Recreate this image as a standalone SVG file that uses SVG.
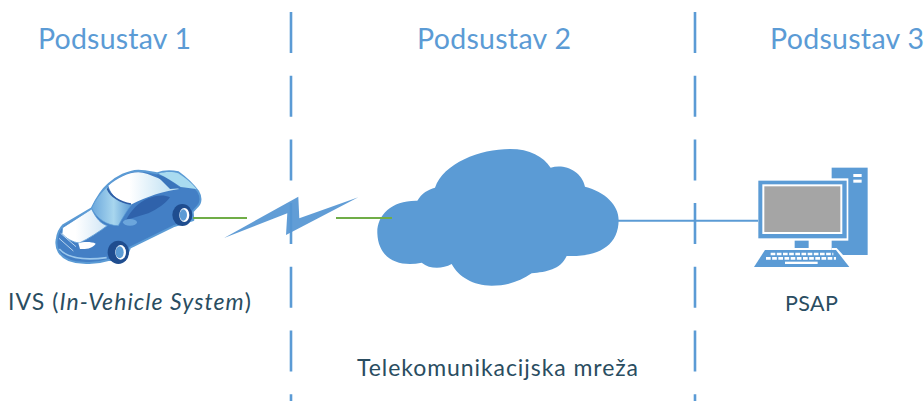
<svg xmlns="http://www.w3.org/2000/svg" width="924" height="401" viewBox="0 0 924 401">
<style>
.t{font-family:"Lato","Liberation Sans",sans-serif;}
.h{font-size:28.500px;fill:#5b9bd5;}
.b{font-size:23px;fill:#2a4d61;}
.dash{stroke:#5b9bd5;stroke-width:2.600;fill:none;stroke-dasharray:41 22.700;}
.blue{fill:#5b9bd5;}
.w{fill:#fff;}
</style>
<defs>
<linearGradient id="hood" x1="0" y1="0" x2="1" y2="0"><stop offset="0.3" stop-color="#fff"/><stop offset="1" stop-color="#cfe5f5"/></linearGradient>
<linearGradient id="roof" x1="0" y1="0" x2="1" y2="0"><stop offset="0.3" stop-color="#fff"/><stop offset="1" stop-color="#b6dcf1"/></linearGradient>
<linearGradient id="glass" x1="0" y1="0" x2="1" y2="0"><stop offset="0" stop-color="#6aa7dc"/><stop offset="0.55" stop-color="#a8d6ee"/><stop offset="1" stop-color="#5b9bd5"/></linearGradient>
</defs>
<g id="cloud">
<path class="blue" transform="translate(360,140) scale(0.3333)" d="M52,280C50,225 95,180 172,182C185,160 205,148 225,143C250,70 360,27 450,27C510,27 550,50 572,83C610,70 665,90 675,140C735,155 776,195 776,240C776,320 710,352 620,348C600,390 560,395 515,400C480,425 440,437 395,437C340,437 295,410 275,372C245,388 210,388 185,368C120,382 55,360 52,280Z"/>
</g>
<g id="car" transform="translate(50,165) scale(0.3333)">
<path fill="#437fc5" stroke="#5b9bd5" stroke-width="6" stroke-linejoin="round" d="M20,225C22,205 30,190 40,180L125,130C140,100 155,75 175,58C200,35 235,18 265,17C285,17 305,22 320,25C340,18 365,17 385,22C410,40 430,60 445,80C454,95 454,115 442,125L428,140L430,165L370,184L240,248L225,285L175,285C150,293 125,295 100,293C70,293 40,283 26,260C20,248 18,235 20,225Z"/>
<path fill="url(#hood)" stroke="#5b9bd5" stroke-width="2.500" d="M38,188L125,132C138,160 152,176 172,182C150,198 115,222 88,234C68,232 48,220 36,206Z"/>
<path fill="url(#glass)" stroke="#5b9bd5" stroke-width="2" d="M125,130C135,105 155,80 172,65C180,95 210,112 245,118C230,138 218,158 205,182C170,182 140,160 125,130Z"/>
<path fill="url(#roof)" d="M175,62C200,40 235,22 265,22C300,24 345,50 388,72C340,78 290,95 245,118C210,112 182,92 175,62Z"/>
<path fill="none" stroke="#2f5ea6" stroke-width="5" d="M172,70C182,95 210,112 243,117"/>
<path fill="#3a74bb" d="M318,30L345,35L392,70L360,72Z"/>
<path fill="#a9dbf0" d="M325,26C345,20 370,20 385,25C408,40 425,55 440,72C420,70 410,68 392,66C370,50 348,36 325,26Z"/>
<path fill="#2f62ab" d="M228,165C245,135 265,112 295,100C318,90 342,88 360,97C345,118 325,130 295,145Z"/>
<ellipse cx="240" cy="172" rx="21" ry="10" fill="#6ca6dc"/>
<path fill="#fff" d="M85,235C100,230 125,230 137,236C130,248 110,254 90,252Z"/>
<path fill="none" stroke="#cfe5f5" stroke-width="2.500" d="M32,205L78,245M27,220L70,258"/>
<path fill="none" stroke="#9cc8ec" stroke-width="5" d="M28,252C50,277 100,287 170,278"/>
<ellipse cx="397" cy="150" rx="30" ry="33" fill="#1f4d8f"/>
<ellipse cx="403" cy="150" rx="15" ry="21" fill="#fff"/>
<ellipse cx="400" cy="150" rx="11" ry="17" fill="#5b9bd5"/>
<ellipse cx="205" cy="262" rx="32" ry="35" fill="#1f4d8f"/>
<ellipse cx="212" cy="262" rx="16" ry="22" fill="#fff"/>
<ellipse cx="209" cy="262" rx="12" ry="18" fill="#5b9bd5"/>
</g>
<g id="computer" transform="translate(720,150) scale(0.3333)">
<rect class="blue" x="335" y="53" width="108" height="262"/>
<rect class="w" x="400" y="72" width="25" height="9"/>
<rect class="w" x="400" y="89" width="25" height="9"/>
<rect class="w" x="110" y="85" width="275" height="187"/>
<rect class="blue" x="115" y="92" width="265" height="173"/>
<rect class="w" x="127" y="103" width="240" height="149"/>
<rect x="133" y="109" width="228" height="137" fill="#a5a5a5"/>
<rect class="blue" x="224" y="272" width="42" height="22"/>
<polygon class="w" points="335,294 350,294 372,318 335,318"/>
<polygon class="blue" points="135,300 348,300 388,351 102,351"/>
<line x1="152" y1="312" x2="340" y2="312" stroke="#fff" stroke-width="8" stroke-dasharray="14 4.500"/>
<line x1="138" y1="325" x2="348" y2="325" stroke="#fff" stroke-width="8" stroke-dasharray="14 4.500"/>
<rect class="w" x="195" y="335" width="98" height="7"/>
</g>
<g id="connectors">
<line class="dash" x1="291" y1="12" x2="291" y2="401"/>
<line class="dash" x1="695" y1="12" x2="695" y2="401"/>
<line x1="193" y1="218" x2="247" y2="218" stroke="#70ad47" stroke-width="2"/>
<line x1="336" y1="218" x2="392" y2="218" stroke="#70ad47" stroke-width="2"/>
<line x1="618" y1="220.700" x2="758" y2="220.700" stroke="#5b9bd5" stroke-width="2"/>
</g>
<g id="link">
<polygon points="224,238 298.300,196.700 299.300,218.300 358.300,197.300 286,235 287.300,213.300" fill="#5596d3" fill-opacity="0.93"/>
</g>
<g id="labels">
<text class="t h" x="38" y="49" textLength="153" lengthAdjust="spacing">Podsustav 1</text>
<text class="t h" x="417" y="49" textLength="154" lengthAdjust="spacing">Podsustav 2</text>
<text class="t h" x="770" y="49" textLength="154" lengthAdjust="spacing">Podsustav 3</text>
<text class="t b" x="8" y="310" letter-spacing="1.070">IVS (<tspan font-style="italic">In-Vehicle System</tspan>)</text>
<text class="t b" x="785" y="311" font-size="21.500" style="font-size:21.500px" textLength="53" lengthAdjust="spacing">PSAP</text>
<text class="t b" x="357" y="376" textLength="281" lengthAdjust="spacing">Telekomunikacijska mreža</text>
</g>
</svg>
